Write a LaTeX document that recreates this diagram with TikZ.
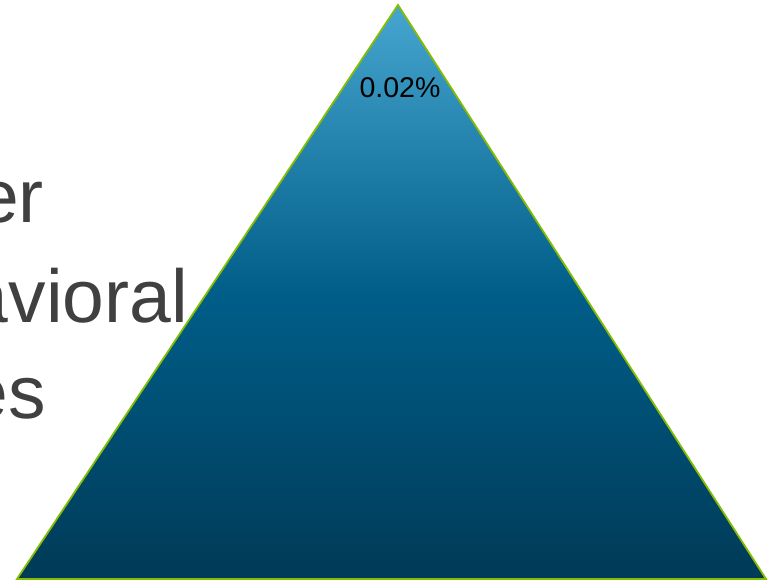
\documentclass[tikz,border=0pt]{standalone}
\usepackage{fontspec}
\setmainfont{Liberation Sans}
\definecolor{toptri}{HTML}{47A6CF}
\definecolor{midtri}{HTML}{005E89}
\definecolor{bottri}{HTML}{003A57}
\definecolor{edgegreen}{HTML}{86BC00}
\definecolor{textgray}{HTML}{404040}
\tikzset{
  bigword/.style={anchor=base east, inner sep=0pt, text=textgray, font=\fontsize{75}{90}\selectfont},
  pct/.style={anchor=base, inner sep=0pt, text=black, font=\fontsize{28.5}{34}\selectfont}
}
\begin{document}
\begin{tikzpicture}[x=1pt,y=-1pt]
\useasboundingbox (0,0) rectangle (773,583);
\clip (0,0) rectangle (773,583);
\node[bigword] (w1) at (44,222) {er};
\node[bigword] (w2) at (188,322) {avioral};
\node[bigword] (w3) at (46,418) {es};
\coordinate (apex) at (398,5);
\coordinate (bl) at (17,579);
\coordinate (br) at (766,579);
\path[top color=toptri, bottom color=bottri, middle color=midtri] (apex) -- (br) -- (bl) -- cycle;
\draw[edgegreen, line width=1.8pt, line join=miter] (apex) -- (br) -- (bl) -- cycle;
\node[pct] (p) at (400,98) {0.02\%};
\end{tikzpicture}
\end{document}
